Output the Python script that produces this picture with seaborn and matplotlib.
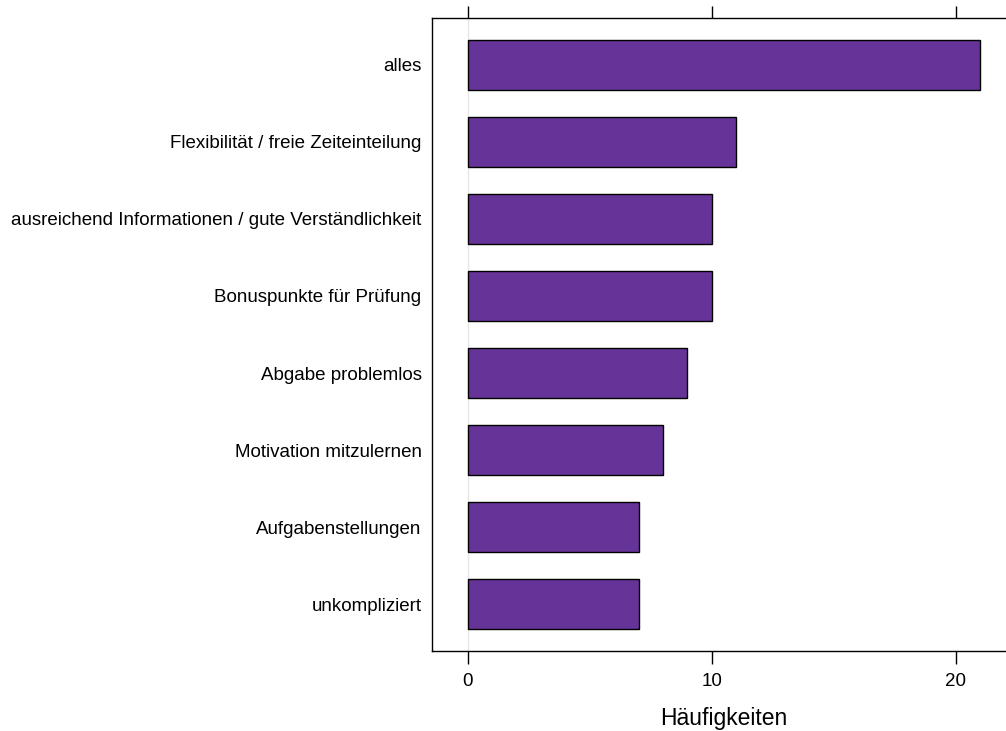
import matplotlib
matplotlib.use("Agg")
import matplotlib.pyplot as plt
import seaborn as sns
import pandas as pd

# Daten
kategorien = [
    "alles",
    "Flexibilität / freie Zeiteinteilung",
    "ausreichend Informationen / gute Verständlichkeit",
    "Bonuspunkte für Prüfung",
    "Abgabe problemlos",
    "Motivation mitzulernen",
    "Aufgabenstellungen",
    "unkompliziert",
]
haeufigkeiten = [21, 11, 10, 10, 9, 8, 7, 7]
x_ticks = [0, 10, 20]

df = pd.DataFrame({"Kategorie": kategorien, "Häufigkeiten": haeufigkeiten})

sns.set_style("white")
plt.rcParams["font.family"] = ["Liberation Sans", "DejaVu Sans"]
plt.rcParams["text.color"] = "black"
plt.rcParams["axes.labelcolor"] = "black"
plt.rcParams["xtick.color"] = "black"
plt.rcParams["ytick.color"] = "black"

fig = plt.figure(figsize=(10.06, 7.31), dpi=100)
# Achsen reichen rechts über den Bildrand hinaus (wie im Original abgeschnitten)
ax = fig.add_axes([432 / 1006, 80 / 731, 584 / 1006, 633 / 731])

ax.axvline(0, color="#e6e6e6", lw=1, zorder=0)
sns.barplot(data=df, x="Häufigkeiten", y="Kategorie", orient="h",
            color="#663399", saturation=1, edgecolor="black", linewidth=1,
            width=0.66, ax=ax, zorder=2)

ax.set_xlim(-1.47, 22.47)
ax.set_ylim(7.61, -0.61)
ax.set_xticks(x_ticks)
ax.set_xticklabels([str(t) for t in x_ticks])
ax.tick_params(axis="x", top=True, bottom=True, labeltop=False, direction="out",
               length=9, width=1, color="black", labelsize=13.5, pad=7)
ax.tick_params(axis="y", left=False, labelsize=13.5, pad=4)
ax.set_ylabel("")
ax.set_xlabel("Häufigkeiten", fontsize=16.5, labelpad=12)

for s in ax.spines.values():
    s.set_visible(True)
    s.set_color("black")
    s.set_linewidth(1)

fig.savefig("out.png", dpi=100)
